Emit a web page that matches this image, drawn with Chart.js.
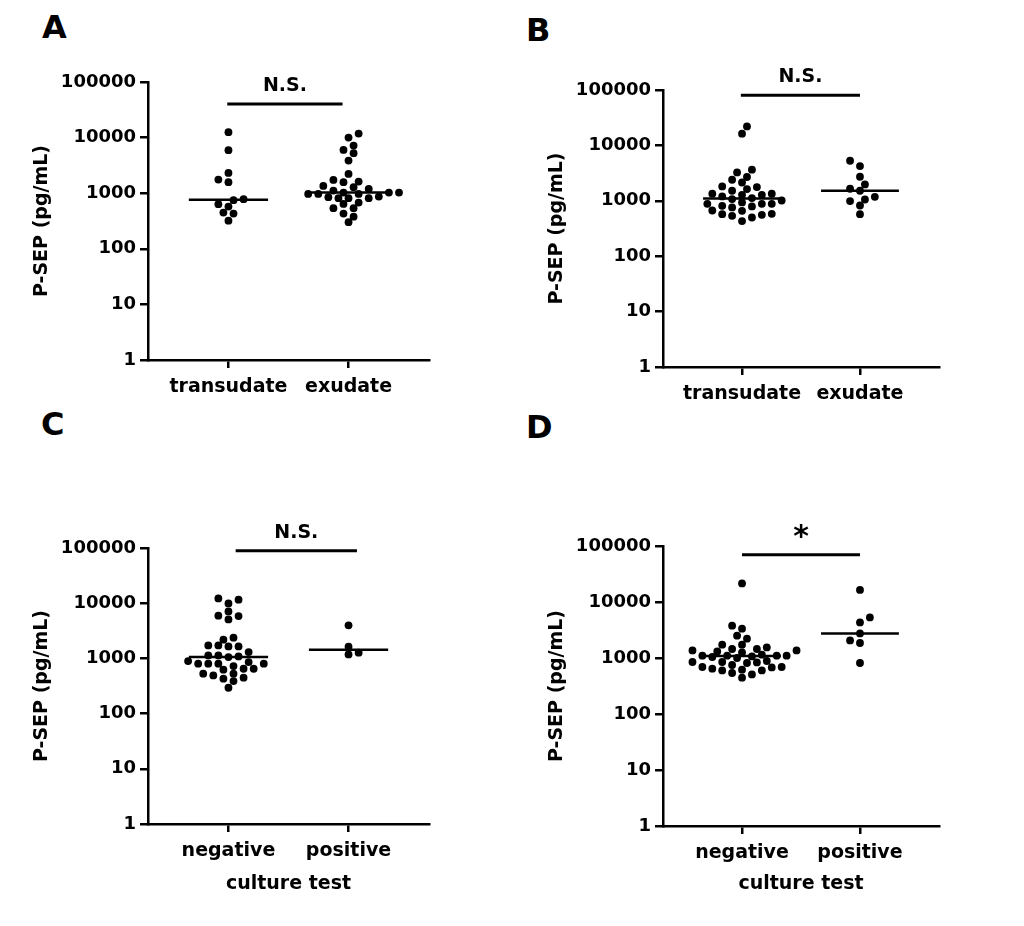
<!DOCTYPE html>
<html lang="en">
<head>
    <meta charset="UTF-8">
    <title>P-SEP dot plots</title>
    <script src="https://cdn.jsdelivr.net/npm/chart.js"></script>
    <style>
        body {
            margin: 0;
            padding: 0;
            background: #fff;
            width: 1024px;
            height: 926px;
            position: relative;
            overflow: hidden;
            font-family: "DejaVu Sans", sans-serif;
        }
        canvas {
            position: absolute;
        }
        .letter {
            position: absolute;
            font-size: 32px;
            font-weight: bold;
            line-height: 32px;
            color: #000;
        }
    </style>
</head>
<body>
    <div class="letter" style="left:42px; top:11px;">A</div>
    <div class="letter" style="left:526px; top:14px;">B</div>
    <div class="letter" style="left:41px; top:408px;">C</div>
    <div class="letter" style="left:526px; top:411px;">D</div>

    <canvas id="chartA" width="512" height="463" style="left:0; top:0;"></canvas>
    <canvas id="chartB" width="512" height="463" style="left:512px; top:0;"></canvas>
    <canvas id="chartC" width="512" height="463" style="left:0; top:463px;"></canvas>
    <canvas id="chartD" width="512" height="463" style="left:512px; top:463px;"></canvas>

    <script>
        // ---- data (pg/mL) ----
        const yTicks = [1, 10, 100, 1000, 10000, 100000];

        const fluidCats = ['transudate', 'exudate'];
        const cultureCats = ['negative', 'positive'];

        const aTransudate = [12500, 5930, 2320, 1760, 1580, 780, 748, 634, 574, 448, 430, 321];
        const aExudate = [11800, 10000, 7180, 6010, 5240, 3860, 2223, 1735, 1617, 1577, 1353, 1282,
            1195, 1114, 1025, 1025, 1025, 971, 971, 971, 869, 847, 813, 813, 813, 678, 642,
            537, 537, 430, 379, 301];

        const bTransudate = [22000, 16300, 3640, 3250, 2690, 2400, 2140, 1815, 1767, 1627, 1517,
            1340, 1340, 1283, 1283, 1197, 1118, 1073, 1013, 933, 883, 883, 883, 813, 790, 758,
            668, 659, 582, 574, 558, 536, 500, 430];
        const bExudate = [5280, 4240, 2716, 1973, 1649, 1520, 1181, 1056, 987, 822, 574];

        const cNegative = [12200, 11560, 9910, 7100, 5940, 5840, 5090, 2371, 2183, 1720, 1720,
            1650, 1650, 1301, 1133, 1133, 1087, 1056, 894, 857, 801, 801, 801, 801, 726, 650,
            650, 624, 528, 528, 492, 447, 429, 388, 294];
        const cPositive = [3980, 1633, 1270, 1182];

        const dNegative = [21500, 3776, 3335, 2500, 2213, 1728, 1728, 1546, 1448, 1448, 1367,
            1367, 1312, 1259, 1145, 1099, 1099, 1099, 1099, 1068, 1042, 1000, 884, 848, 848,
            834, 815, 750, 690, 690, 679, 644, 618, 601, 601, 540, 509, 445];
        const dPositive = [16400, 5310, 4320, 2750, 2060, 1854, 815];

        // ---- layout per panel ----
        const panels = [
            { id: 'chartA', cats: fluidCats, groups: [aTransudate, aExudate], mark: 'N.S.',
              markY: 40400, markFrom: -0.01, markTo: 0.95, xTitle: '',
              yWidth: 148, top: 82, xHeight: 103, right: 83, yTitlePad: 31 },
            { id: 'chartB', cats: fluidCats, groups: [bTransudate, bExudate], mark: 'N.S.',
              markY: 80200, markFrom: -0.01, markTo: 1.0, xTitle: '',
              yWidth: 151, top: 90, xHeight: 96, right: 85, yTitlePad: 34 },
            { id: 'chartC', cats: cultureCats, groups: [cNegative, cPositive], mark: 'N.S.',
              markY: 89400, markFrom: 0.06, markTo: 1.07, xTitle: 'culture test',
              yWidth: 148, top: 85, xHeight: 102, right: 83, yTitlePad: 31 },
            { id: 'chartD', cats: cultureCats, groups: [dNegative, dPositive], mark: '*',
              markY: 70000, markFrom: 0.0, markTo: 1.0, xTitle: 'culture test',
              yWidth: 151, top: 83, xHeight: 100, right: 85, yTitlePad: 34 }
        ];

        const DEC_PX = 55.5;   // approx pixels per decade
        const UNIT_PX = 119;   // approx pixels per category
        const HALF = 5;        // swarm grid, px
        const MIN_D = 7.4;     // min distance between dot centres, px

        // simple beeswarm so that dots spread sideways like the original
        function swarm(values, center) {
            const placed = [];
            const sorted = values.slice().sort((a, b) => a - b);
            sorted.forEach((v, i) => {
                const py = Math.log10(v) * DEC_PX;
                let found = null;
                for (let k = 0; k < 60 && found === null; k++) {
                    const offs = k === 0 ? [0] : (i % 2 ? [k * HALF, -k * HALF] : [-k * HALF, k * HALF]);
                    for (const o of offs) {
                        const ok = placed.every(p => (p.px - o) ** 2 + (p.py - py) ** 2 >= MIN_D * MIN_D);
                        if (ok) { found = o; break; }
                    }
                }
                placed.push({ px: found, py: py, v: v });
            });
            return placed.map(p => ({ x: center + p.px / UNIT_PX, y: p.v }));
        }

        function median(values) {
            const s = values.slice().sort((a, b) => a - b);
            const m = Math.floor(s.length / 2);
            return s.length % 2 ? s[m] : Math.sqrt(s[m - 1] * s[m]);
        }

        Chart.defaults.font.family = '"DejaVu Sans", sans-serif';
        Chart.defaults.font.weight = 'bold';
        Chart.defaults.color = '#000';

        // text above the significance bar
        const markLabel = {
            id: 'markLabel',
            afterDraw(chart, args, opts) {
                const meta = chart.getDatasetMeta(opts.index);
                if (!meta || meta.data.length < 2) return;
                const p0 = meta.data[0], p1 = meta.data[1];
                const ctx = chart.ctx;
                ctx.save();
                ctx.fillStyle = '#000';
                ctx.textAlign = 'center';
                ctx.textBaseline = 'middle';
                ctx.font = opts.text === '*' ? 'bold 30px "DejaVu Sans"' : 'bold 19px "DejaVu Sans"';
                const dy = opts.text === '*' ? 16 : 18;
                ctx.fillText(opts.text, (p0.x + p1.x) / 2, p0.y - dy);
                ctx.restore();
            }
        };

        panels.forEach(pn => {
            const datasets = [];
            pn.groups.forEach((g, i) => {
                datasets.push({
                    type: 'scatter',
                    data: swarm(g, i),
                    backgroundColor: '#000',
                    borderColor: '#000',
                    pointRadius: 3.9,
                    pointHoverRadius: 3.9,
                    borderWidth: 0
                });
            });
            pn.groups.forEach((g, i) => {
                const m = median(g);
                datasets.push({
                    type: 'line',
                    data: [{ x: i - 0.33, y: m }, { x: i + 0.33, y: m }],
                    borderColor: '#000',
                    borderWidth: 2.5,
                    pointRadius: 0,
                    fill: false
                });
            });
            datasets.push({
                type: 'line',
                data: [{ x: pn.markFrom, y: pn.markY }, { x: pn.markTo, y: pn.markY }],
                borderColor: '#000',
                borderWidth: 3,
                pointRadius: 0,
                fill: false
            });

            new Chart(document.getElementById(pn.id), {
                type: 'scatter',
                data: { datasets: datasets },
                options: {
                    responsive: false,
                    animation: false,
                    events: [],
                    layout: { padding: { top: pn.top, right: pn.right, left: 0, bottom: 0 } },
                    plugins: {
                        legend: { display: false },
                        tooltip: { enabled: false },
                        markLabel: { index: datasets.length - 1, text: pn.mark }
                    },
                    scales: {
                        x: {
                            type: 'linear',
                            min: -0.67,
                            max: 1.67,
                            afterBuildTicks: s => { s.ticks = [{ value: 0 }, { value: 1 }]; },
                            afterFit: s => { s.height = pn.xHeight; },
                            ticks: {
                                callback: v => pn.cats[v],
                                font: { size: 19, weight: 'bold' },
                                color: '#000',
                                padding: 8,
                                maxRotation: 0,
                                autoSkip: false
                            },
                            grid: { drawOnChartArea: false, drawTicks: true, tickLength: 8, color: '#000', lineWidth: 2.5 },
                            border: { display: true, color: '#000', width: 2.5 },
                            title: {
                                display: pn.xTitle !== '',
                                text: pn.xTitle,
                                font: { size: 19, weight: 'bold' },
                                color: '#000',
                                padding: { top: 0, bottom: 31 }
                            }
                        },
                        y: {
                            type: 'logarithmic',
                            min: 1,
                            max: 100000,
                            afterBuildTicks: s => { s.ticks = yTicks.map(v => ({ value: v })); },
                            afterFit: s => { s.width = pn.yWidth; },
                            ticks: {
                                callback: v => String(v),
                                font: { size: 18, weight: 'bold' },
                                color: '#000',
                                padding: 4,
                                autoSkip: false
                            },
                            grid: { drawOnChartArea: false, drawTicks: true, tickLength: 8, color: '#000', lineWidth: 2.5 },
                            border: { display: true, color: '#000', width: 2.5 },
                            title: {
                                display: true,
                                text: 'P-SEP (pg/mL)',
                                font: { size: 19, weight: 'bold' },
                                color: '#000',
                                padding: { top: pn.yTitlePad, bottom: 0 }
                            }
                        }
                    }
                },
                plugins: [markLabel]
            });
        });
    </script>
</body>
</html>
